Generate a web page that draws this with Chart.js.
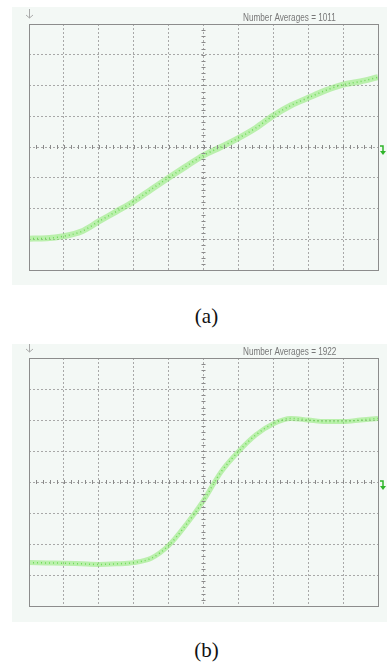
<!DOCTYPE html>
<html>
<head>
<meta charset="utf-8">
<script src="https://cdn.jsdelivr.net/npm/chart.js@4.4.1/dist/chart.umd.min.js"></script>
<style>
  body { margin: 0; background: #fff; width: 387px; height: 665px; position: relative; overflow: hidden; }
  .panel { position: absolute; left: 12px; width: 375px; height: 278px; background: #f3f8f5; }
  .cap { position: absolute; width: 387px; text-align: center; font-family: "Liberation Serif", serif; font-size: 21px; color: #111; }
</style>
</head>
<body>
<div class="panel" style="top:7px"><canvas id="chartA" width="375" height="278"></canvas></div>
<div class="cap" style="left:13px; top:304px">(a)</div>
<div class="panel" style="top:344px"><canvas id="chartB" width="375" height="278"></canvas></div>
<div class="cap" style="left:13px; top:638px">(b)</div>
<script>
// time axis in divisions (0..10), values in divisions (-4..4)
var divX = [0, 0.5, 1, 1.5, 2, 2.5, 3, 3.5, 4, 4.5, 5, 5.5, 6, 6.5, 7, 7.5, 8, 8.5, 9, 9.5, 10];
var traceA = [-2.98, -2.97, -2.9, -2.75, -2.42, -2.1, -1.77, -1.38, -1.0, -0.63, -0.27, 0.0, 0.29, 0.62, 1.02, 1.35, 1.6, 1.84, 2.03, 2.13, 2.27];
var traceB = [-2.6, -2.61, -2.62, -2.64, -2.66, -2.64, -2.6, -2.46, -2.05, -1.38, -0.6, 0.32, 0.98, 1.52, 1.88, 2.05, 2.0, 1.95, 1.95, 2.0, 2.05];
var averagesA = 1011;
var averagesB = 1922;

function pts(ys) {
    var out = [];
    for (var i = 0; i < divX.length; i++) {
        out.push({ x: divX[i], y: ys[i] });
    }
    return out;
}

// scope screen: frame, center ticks, label, markers
var scopePlugin = {
    id: 'scope',
    afterDraw: function (chart) {
        var ctx = chart.ctx;
        var a = chart.chartArea;
        var xs = chart.scales.x, ys = chart.scales.y;
        var cx = xs.getPixelForValue(5), cy = ys.getPixelForValue(0);
        ctx.save();
        // minor ticks on center lines
        ctx.strokeStyle = '#8a8a8a';
        ctx.lineWidth = 1;
        ctx.beginPath();
        for (var v = 0.2; v < 10; v += 0.2) {
            var px = Math.round(xs.getPixelForValue(v)) + 0.5;
            ctx.moveTo(px, cy - 2); ctx.lineTo(px, cy + 2);
        }
        for (var w = -3.8; w < 4; w += 0.2) {
            var py = Math.round(ys.getPixelForValue(w)) + 0.5;
            ctx.moveTo(cx - 2, py); ctx.lineTo(cx + 2, py);
        }
        ctx.stroke();
        // frame
        ctx.strokeStyle = '#8c8c8c';
        ctx.strokeRect(Math.round(a.left) + 0.5, Math.round(a.top) + 0.5, Math.round(a.right - a.left), Math.round(a.bottom - a.top));
        // label
        ctx.fillStyle = '#777';
        ctx.font = '10.5px "Liberation Sans", Arial, sans-serif';
        ctx.textBaseline = 'alphabetic';
        ctx.translate(a.left + 214, a.top - 3);
        ctx.scale(0.78, 1);
        ctx.fillText('Number Averages = ' + chart.options.plugins.scope.count, 0, 0);
        ctx.restore();
        // trigger arrow top-left
        ctx.save();
        ctx.strokeStyle = '#aaa';
        ctx.beginPath();
        ctx.moveTo(a.left + 0.5, a.top - 15); ctx.lineTo(a.left + 0.5, a.top - 6);
        ctx.moveTo(a.left - 3, a.top - 9); ctx.lineTo(a.left + 0.5, a.top - 6); ctx.lineTo(a.left + 4, a.top - 9);
        ctx.stroke();
        // channel marker right
        ctx.strokeStyle = '#2fb52a';
        ctx.fillStyle = '#2fb52a';
        ctx.lineWidth = 1.5;
        ctx.beginPath();
        ctx.moveTo(a.right + 2, cy - 1); ctx.lineTo(a.right + 5, cy - 1); ctx.lineTo(a.right + 5, cy + 5);
        ctx.stroke();
        ctx.beginPath();
        ctx.moveTo(a.right + 2, cy + 4); ctx.lineTo(a.right + 8, cy + 4); ctx.lineTo(a.right + 5, cy + 8);
        ctx.closePath(); ctx.fill();
        ctx.restore();
    }
};

function makeScope(id, ys, count, pad, bandWidth) {
    var ctx = document.getElementById(id).getContext('2d');
    return new Chart(ctx, {
        type: 'line',
        data: {
            datasets: [{
                data: pts(ys),
                borderColor: 'rgba(130, 232, 100, 0.5)',
                borderWidth: bandWidth,
                pointRadius: 0,
                cubicInterpolationMode: 'monotone',
                fill: false
            }, {
                data: pts(ys),
                borderColor: 'rgba(55, 195, 35, 0.8)',
                borderWidth: 1.5,
                borderDash: [1, 3],
                pointRadius: 0,
                cubicInterpolationMode: 'monotone',
                fill: false
            }]
        },
        options: {
            responsive: false,
            animation: false,
            layout: { padding: pad },
            plugins: { legend: { display: false }, tooltip: { enabled: false }, scope: { count: count } },
            scales: {
                x: {
                    type: 'linear', min: 0, max: 10,
                    ticks: { display: false, stepSize: 1 },
                    grid: { color: '#a8a8a8', drawTicks: false },
                    border: { display: false, dash: [2, 2] }
                },
                y: {
                    min: -4, max: 4,
                    ticks: { display: false, stepSize: 1 },
                    grid: { color: '#a8a8a8', drawTicks: false },
                    border: { display: false, dash: [2, 2] }
                }
            }
        },
        plugins: [scopePlugin]
    });
}

makeScope('chartA', traceA, averagesA, { left: 17, right: 9, top: 17, bottom: 15 }, 6);
makeScope('chartB', traceB, averagesB, { left: 17, right: 9, top: 14, bottom: 16 }, 5);
</script>
</body>
</html>
